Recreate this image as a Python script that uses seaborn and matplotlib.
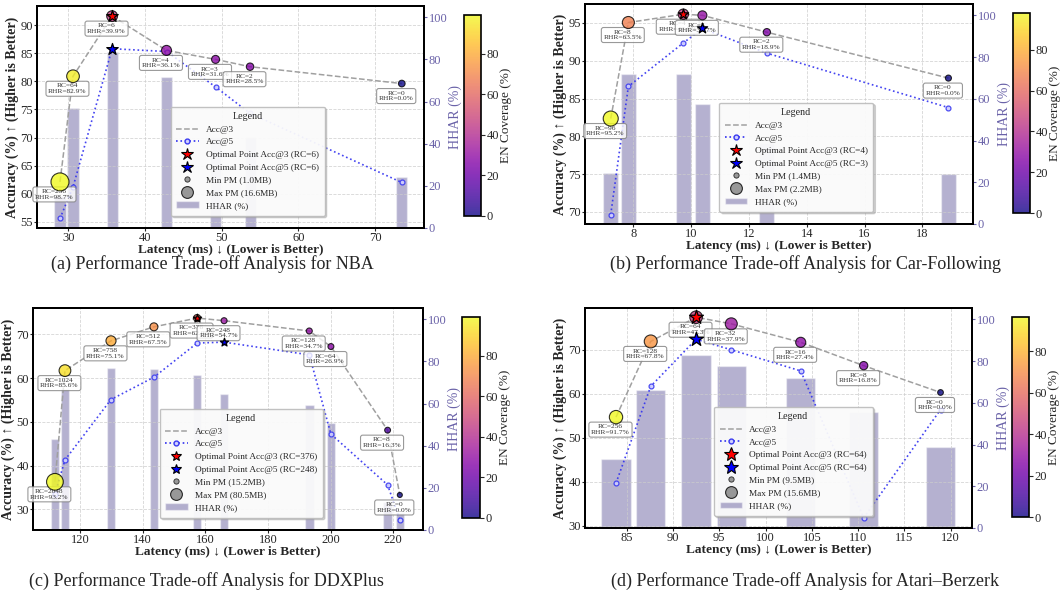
import numpy as np
import matplotlib
matplotlib.use("Agg")
import matplotlib.pyplot as plt
import seaborn as sns
from matplotlib.patches import Patch
from matplotlib.lines import Line2D

# ---------------- data ----------------
# (a) NBA
nba_rc = [256, 64, 6, 4, 3, 2, 0]
nba_latency = [28.9, 30.6, 35.7, 42.8, 49.2, 53.7, 73.5]
nba_acc3 = [62.1, 80.9, 91.6, 85.5, 83.9, 82.6, 79.6]
nba_acc5 = [55.6, 61.2, 85.8, 85.3, 79.0, 74.3, 62.0]
nba_hhar = [15.0, 57.2, 83.7, 71.8, 43.3, 43.3, 24.0]
nba_en = [99.0, 96.0, 45.0, 30.0, 28.0, 26.0, 0.0]
nba_pm = [16.6, 7.5, 5.0, 4.1, 2.1, 1.6, 1.0]
nba_rhr = [98.7, 82.9, 39.9, 36.1, 31.6, 28.5, 0.0]

# (b) Car-Following
car_rc = [96, 8, 4, 3, 2, 0]
car_latency = [7.22, 7.83, 9.73, 10.39, 12.62, 18.9]
car_acc3 = [82.35, 95.05, 96.15, 96.0, 93.77, 87.7]
car_acc5 = [69.65, 86.6, 92.35, 94.26, 91.0, 83.8]
car_hhar = [24.2, 71.8, 71.8, 57.4, 38.6, 23.9]
car_en = [98.0, 67.0, 45.0, 30.0, 25.0, 0.0]
car_pm = [2.2, 1.86, 1.7, 1.59, 1.47, 1.4]
car_rhr = [95.2, 63.5, 43.6, 31.7, 18.9, 0.0]

# (c) DDXPlus
ddx_rc = [2048, 1024, 758, 512, 376, 248, 128, 64, 8, 0]
ddx_latency = [112.0, 115.2, 129.9, 143.6, 157.4, 166.0, 193.2, 200.1, 218.2, 222.1]
ddx_acc3 = [36.3, 61.7, 68.5, 71.7, 73.7, 73.1, 70.75, 67.2, 48.1, 33.3]
ddx_acc5 = [33.5, 41.3, 55.1, 60.2, 68.0, 68.2, 65.3, 47.2, 35.6, 27.6]
ddx_hhar = [43.2, 67.0, 76.7, 76.4, 73.6, 64.5, 59.3, 50.9, 13.4, 7.9]
ddx_en = [99.0, 93.0, 80.0, 72.0, 60.0, 32.0, 30.0, 28.0, 12.0, 0.0]
ddx_pm = [80.5, 44.0, 34.8, 25.0, 22.0, 18.0, 18.0, 17.8, 17.5, 15.2]
ddx_rhr = [93.2, 85.6, 75.1, 67.5, 62.0, 54.7, 34.7, 26.9, 16.3, 0.0]

# (d) Atari-Berzerk
ata_rc = [256, 128, 64, 32, 16, 8, 0]
ata_latency = [83.85, 87.6, 92.5, 96.3, 103.8, 110.6, 118.9]
ata_acc3 = [54.7, 71.9, 77.4, 75.9, 71.7, 66.4, 60.3]
ata_acc5 = [39.7, 61.7, 72.4, 70.0, 65.2, 31.8, 56.4]
ata_hhar = [32.9, 66.2, 82.9, 77.6, 71.9, 55.5, 38.9]
ata_en = [96.5, 72.0, 45.0, 32.0, 28.0, 25.0, 0.0]
ata_pm = [15.6, 15.2, 14.8, 14.2, 12.4, 11.0, 9.5]
ata_rhr = [91.7, 67.8, 47.3, 37.9, 27.4, 16.8, 0.0]

captions = [
    "(a) Performance Trade-off Analysis for NBA",
    "(b) Performance Trade-off Analysis for Car-Following",
    "(c) Performance Trade-off Analysis for DDXPlus",
    "(d) Performance Trade-off Analysis for Atari\u2013Berzerk",
]

# ---------------- style ----------------
sns.set_theme(style="white")
plt.rcParams["font.family"] = ["Liberation Serif", "DejaVu Serif"]
plt.rcParams["mathtext.fontset"] = "stix"

fig = plt.figure(figsize=(10.62, 6.0), dpi=100)
W, H = 1062.0, 600.0


def rect(x0, y0, x1, y1):
    return [x0 / W, 1 - y1 / H, (x1 - x0) / W, (y1 - y0) / H]


HHAR_TXT = "#6a62a8"

panels = [
    dict(rc=nba_rc, lat=nba_latency, acc3=nba_acc3, acc5=nba_acc5, hhar=nba_hhar,
         en=nba_en, pm=nba_pm, rhr=nba_rhr,
         ax=rect(37, 6, 424, 228), cb=rect(464, 15, 481, 216),
         xlim=(25.9, 76.4), ylim=(53.9, 93.4), srange=(23, 168), star=75, leg_star=9,
         cap=(212, 264)),
    dict(rc=car_rc, lat=car_latency, acc3=car_acc3, acc5=car_acc5, hhar=car_hhar,
         en=car_en, pm=car_pm, rhr=car_rhr,
         ax=rect(585, 4, 973, 224), cb=rect(1013, 13, 1030, 213),
         xlim=(6.33, 19.75), ylim=(68.4, 97.5), srange=(19, 117), star=60, leg_star=9,
         cap=(806, 264)),
    dict(rc=ddx_rc, lat=ddx_latency, acc3=ddx_acc3, acc5=ddx_acc5, hhar=ddx_hhar,
         en=ddx_en, pm=ddx_pm, rhr=ddx_rhr,
         ax=rect(33, 308, 423, 530), cb=rect(462, 317, 480, 518),
         xlim=(105.0, 229.5), ylim=(25.3, 76.0), srange=(13, 145), star=38, leg_star=7,
         cap=(206, 581)),
    dict(rc=ata_rc, lat=ata_latency, acc3=ata_acc3, acc5=ata_acc5, hhar=ata_hhar,
         en=ata_en, pm=ata_pm, rhr=ata_rhr,
         ax=rect(585, 308, 972, 528), cb=rect(1012, 317, 1029, 517),
         xlim=(80.5, 122.3), ylim=(29.5, 79.5), srange=(17, 92), star=110, leg_star=10.5,
         cap=(805, 581)),
]

for p, cap in zip(panels, captions):
    lat = np.asarray(p["lat"], float)
    acc3 = np.asarray(p["acc3"], float)
    acc5 = np.asarray(p["acc5"], float)
    hhar = np.asarray(p["hhar"], float)
    en = np.asarray(p["en"], float)
    pm = np.asarray(p["pm"], float)

    ax = fig.add_axes(p["ax"])
    ax2 = ax.twinx()
    ax.set_zorder(ax2.get_zorder() + 1)
    ax.patch.set_visible(False)

    # HHAR bars on the right axis
    width = 0.85 * np.min(np.diff(np.sort(lat)))
    ax2.bar(lat, hhar, width=width, color="darkslateblue", alpha=0.4, zorder=1)
    ax2.set_ylim(0, 105.4)
    ax2.set_yticks([0, 20, 40, 60, 80, 100])
    ax2.set_ylabel("HHAR (%)", color=HHAR_TXT, fontsize=10, labelpad=1)
    ax2.tick_params(axis="y", colors=HHAR_TXT, labelsize=9, length=2.5, width=0.8,
                    right=True, pad=1)

    # lines
    sns.lineplot(x=lat, y=acc3, ax=ax, sort=False, estimator=None, color="#a0a0a0",
                 linestyle="--", linewidth=1.1, legend=False, zorder=2)
    sns.lineplot(x=lat, y=acc5, ax=ax, sort=False, estimator=None, color="#2f2ff0",
                 linestyle=":", linewidth=1.2, marker="o", markersize=3.5,
                 markerfacecolor="#d0d0ff", markeredgecolor="#3a3af0", markeredgewidth=0.9,
                 legend=False, zorder=2, alpha=0.9)

    # accuracy@3 points coloured by EN coverage, sized by PM
    smin, smax = p["srange"]
    sizes = smin + (pm - pm.min()) / (pm.max() - pm.min()) * (smax - smin)
    sc = ax.scatter(lat, acc3, c=en, cmap="plasma", vmin=en.min(), vmax=en.max(),
                    s=sizes, edgecolors="black", linewidths=0.8, alpha=0.8, zorder=4)

    # annotation boxes
    for x, y, rc, rhr in zip(lat, acc3, p["rc"], p["rhr"]):
        ax.annotate(f"RC={rc}\nRHR={rhr:.1f}%", xy=(x, y), xytext=(-4, -9),
                    textcoords="offset points", ha="center", va="center",
                    fontsize=5.3, color="#333333", linespacing=1.15, zorder=3,
                    bbox=dict(boxstyle="round,pad=0.3", fc="white", ec="gray",
                              alpha=0.8, lw=0.8))

    # optimal points
    i3 = int(np.argmax(acc3))
    i5 = int(np.argmax(acc5))
    ax.scatter([lat[i3]], [acc3[i3]], marker="*", s=p["star"], color="red",
               edgecolors="black", linewidths=0.9, zorder=6)
    ax.scatter([lat[i5]], [acc5[i5]], marker="*", s=p["star"], color="blue",
               edgecolors="black", linewidths=0.9, zorder=6)

    ax.set_xlim(*p["xlim"])
    ax.set_ylim(*p["ylim"])
    ax.grid(True, linestyle="--", linewidth=0.6, color="#cccccc", alpha=0.8)
    ax.tick_params(axis="both", labelsize=9, length=2, width=0.8, bottom=True, left=True,
                   pad=0.8)
    ax.set_xlabel("Latency (ms) \u2193 (Lower is Better)", fontsize=9.6, fontweight="bold",
                  labelpad=0)
    ax.set_ylabel("Accuracy (%) \u2191 (Higher is Better)", fontsize=10, fontweight="bold",
                  labelpad=1)
    for a in (ax, ax2):
        for sp in a.spines.values():
            sp.set_color("black")
            sp.set_linewidth(1.4)

    # legend
    rc_arr = p["rc"]
    handles = [
        Line2D([], [], color="#a0a0a0", linestyle="--", linewidth=1.1),
        Line2D([], [], color="#2f2ff0", linestyle=":", linewidth=1.2, marker="o",
               markersize=3.5, markerfacecolor="#d0d0ff", markeredgecolor="#3a3af0"),
        Line2D([], [], linestyle="none", marker="*", markersize=p["leg_star"],
               markerfacecolor="red", markeredgecolor="black", markeredgewidth=0.8),
        Line2D([], [], linestyle="none", marker="*", markersize=p["leg_star"],
               markerfacecolor="blue", markeredgecolor="black", markeredgewidth=0.8),
        Line2D([], [], linestyle="none", marker="o", markersize=3.8,
               markerfacecolor="gray", markeredgecolor="black", markeredgewidth=0.6, alpha=0.8),
        Line2D([], [], linestyle="none", marker="o", markersize=8.5,
               markerfacecolor="gray", markeredgecolor="black", markeredgewidth=0.8, alpha=0.8),
        Patch(facecolor="darkslateblue", alpha=0.4),
    ]
    labels = [
        "Acc@3",
        "Acc@5",
        f"Optimal Point Acc@3 (RC={rc_arr[i3]})",
        f"Optimal Point Acc@5 (RC={rc_arr[i5]})",
        f"Min PM ({pm.min():.1f}MB)",
        f"Max PM ({pm.max():.1f}MB)",
        "HHAR (%)",
    ]
    leg = ax.legend(handles, labels, title="Legend", loc="lower right",
                    bbox_to_anchor=(0.755, 0.035), fontsize=6.7, title_fontsize=7.2,
                    frameon=True, fancybox=True, framealpha=0.9, edgecolor="#bbbbbb",
                    labelspacing=0.45, handlelength=2.4, borderpad=0.6,
                    shadow={"ox": 1.5, "oy": -1.5, "color": "#999999", "alpha": 0.4})
    leg.set_zorder(10)

    # colorbar
    cax = fig.add_axes(p["cb"])
    cb = fig.colorbar(sc, cax=cax)
    cb.set_ticks([0, 20, 40, 60, 80])
    cb.set_label("EN Coverage (%)", fontsize=9.5, labelpad=1)
    cb.ax.tick_params(labelsize=9, length=3, width=0.8, right=True, pad=1)
    cb.outline.set_linewidth(1.2)
    cb.outline.set_edgecolor("black")

    fig.text(p["cap"][0] / W, 1 - p["cap"][1] / H, cap, ha="center", va="center",
             fontsize=13)

fig.savefig("out.png", dpi=100)
